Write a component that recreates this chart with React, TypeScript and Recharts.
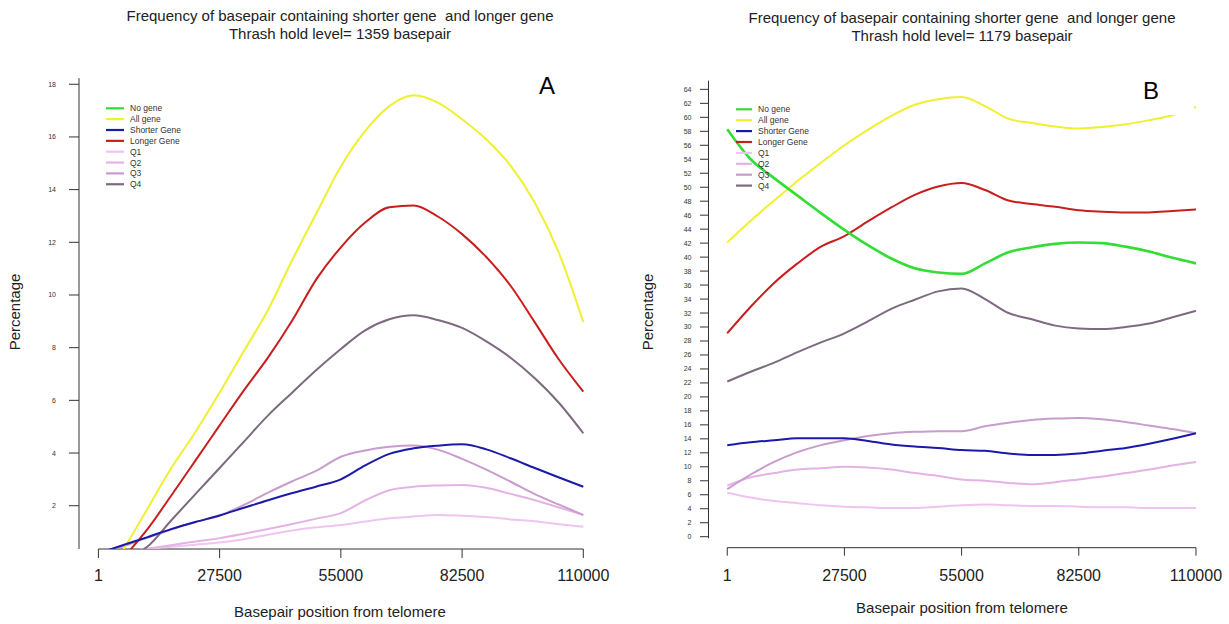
import { LineChart, Line, XAxis, YAxis, ReferenceLine } from 'recharts';

const FONT = '"Liberation Sans", Arial, Helvetica, sans-serif';

// basepair positions the curves are sampled at
const positions = [1, 5500, 11000, 16500, 22000, 27500, 33000, 38500, 44000, 49500, 55000, 60500, 66000, 71500, 77000, 82500, 88000, 93500, 99000, 104500, 110000];
const xTicks = [1, 27500, 55000, 82500, 110000];
const yTicksA = [2, 4, 6, 8, 10, 12, 14, 16, 18];
const yTicksB = [0, 2, 4, 6, 8, 10, 12, 14, 16, 18, 20, 22, 24, 26, 28, 30, 32, 34, 36, 38, 40, 42, 44, 46, 48, 50, 52, 54, 56, 58, 60, 62, 64];

const seriesKeys = ['noGene', 'allGene', 'shorter', 'longer', 'q1', 'q2', 'q3', 'q4'];
const seriesNames = ['No gene', 'All gene', 'Shorter Gene', 'Longer Gene', 'Q1', 'Q2', 'Q3', 'Q4'];
const seriesColors = ['#33dd33', '#f0f030', '#1a1aaa', '#c81e1e', '#f0c4f0', '#e4b2e4', '#c89ccc', '#7e6a80'];
const seriesWidths = [2.6, 2, 2, 2, 2, 2, 2, 2];
// drawing order (first = bottom)
const drawOrder = ['q1', 'q2', 'q3', 'q4', 'allGene', 'longer', 'shorter', 'noGene'];

// Panel A - threshold 1359 bp (No gene is off the top of this scale)
const allGeneA = [null, 0.28, 1.85, 3.42, 4.8, 6.3, 7.87, 9.44, 11.34, 13.12, 14.88, 16.22, 17.17, 17.58, 17.3, 16.67, 15.9, 14.91, 13.5, 11.58, 8.97];
const longerA = [null, 0, 1.08, 2.38, 3.71, 5.05, 6.38, 7.63, 9.04, 10.61, 11.81, 12.75, 13.33, 13.4, 12.98, 12.31, 11.44, 10.35, 8.96, 7.54, 6.33];
const shorterA = [0.19, 0.5, 0.8, 1.11, 1.38, 1.63, 1.92, 2.21, 2.48, 2.73, 3.0, 3.53, 3.97, 4.18, 4.28, 4.33, 4.14, 3.8, 3.43, 3.07, 2.72];
const q1A = [0.1, 0.22, 0.35, 0.44, 0.52, 0.6, 0.73, 0.9, 1.06, 1.18, 1.27, 1.4, 1.52, 1.59, 1.65, 1.62, 1.57, 1.48, 1.41, 1.3, 1.2];
const q2A = [0.1, 0.23, 0.37, 0.5, 0.64, 0.77, 0.94, 1.12, 1.31, 1.51, 1.72, 2.2, 2.59, 2.72, 2.77, 2.79, 2.68, 2.45, 2.21, 1.93, 1.65];
const q3A = [0.15, 0.45, 0.78, 1.1, 1.38, 1.63, 2.03, 2.5, 2.93, 3.33, 3.86, 4.1, 4.24, 4.29, 4.13, 3.78, 3.37, 2.91, 2.44, 2.04, 1.65];
const q4A = [null, 0, 0.43, 1.44, 2.44, 3.43, 4.43, 5.43, 6.3, 7.16, 7.95, 8.66, 9.08, 9.23, 9.05, 8.75, 8.24, 7.62, 6.84, 5.9, 4.75];

// Panel B - threshold 1179 bp
const noGeneB = [58.3, 54.0, 51.3, 48.8, 46.3, 43.9, 41.7, 39.8, 38.4, 37.8, 37.6, 39.1, 40.7, 41.4, 41.9, 42.1, 42.0, 41.5, 40.8, 39.9, 39.1];
const allGeneB = [42.1, 45.2, 48.1, 50.9, 53.5, 56.0, 58.2, 60.2, 61.8, 62.6, 62.9, 61.6, 59.8, 59.2, 58.7, 58.4, 58.6, 59.0, 59.6, 60.3, 61.5];
const longerB = [29.1, 32.9, 36.3, 39.1, 41.5, 43.0, 45.1, 47.1, 48.9, 50.1, 50.6, 49.6, 48.1, 47.6, 47.2, 46.7, 46.5, 46.4, 46.4, 46.6, 46.8];
const shorterB = [13.1, 13.5, 13.8, 14.1, 14.1, 14.1, 13.7, 13.2, 12.9, 12.7, 12.4, 12.3, 11.9, 11.7, 11.7, 11.9, 12.3, 12.7, 13.3, 14.0, 14.8];
const q1B = [6.3, 5.6, 5.1, 4.8, 4.5, 4.3, 4.2, 4.1, 4.1, 4.3, 4.5, 4.6, 4.5, 4.4, 4.4, 4.3, 4.2, 4.2, 4.1, 4.1, 4.1];
const q2B = [7.3, 8.5, 9.1, 9.6, 9.8, 10.0, 9.9, 9.6, 9.1, 8.7, 8.2, 8.0, 7.7, 7.5, 7.8, 8.2, 8.6, 9.1, 9.6, 10.2, 10.7];
const q3B = [6.8, 8.9, 10.7, 12.1, 13.1, 13.8, 14.4, 14.8, 15.0, 15.1, 15.1, 15.8, 16.3, 16.7, 16.9, 17.0, 16.8, 16.4, 15.9, 15.4, 14.8];
const q4B = [22.2, 23.6, 24.9, 26.4, 27.8, 29.1, 30.8, 32.6, 33.9, 35.1, 35.5, 34.0, 32.0, 31.1, 30.2, 29.8, 29.7, 30.0, 30.5, 31.4, 32.3];

type Cols = Record<string, (number | null)[]>;

function buildRows(cols: Cols) {
  return positions.map((x, i) => {
    const row: Record<string, number | null> = { x };
    Object.keys(cols).forEach((k) => {
      row[k] = cols[k][i];
    });
    return row;
  });
}

const rowsA = buildRows({ allGene: allGeneA, longer: longerA, shorter: shorterA, q1: q1A, q2: q2A, q3: q3A, q4: q4A });
const rowsB = buildRows({ noGene: noGeneB, allGene: allGeneB, longer: longerB, shorter: shorterB, q1: q1B, q2: q2B, q3: q3B, q4: q4B });

const xDomain: [number, number] = [-4399, 114399];

interface PanelProps {
  rows: Record<string, number | null>[];
  keys: string[];
  width: number;
  margin: { top: number; right: number; bottom: number; left: number };
  yDomain: [number, number];
  yTicks: number[];
  yLine: [number, number];
  xLineY: number;
  tickLen: number;
  xTickMargin: number;
  yTickLen: number;
  yTickMargin: number;
}

function Panel({ rows, keys, width, margin, yDomain, yTicks, yLine, xLineY, tickLen, xTickMargin, yTickLen, yTickMargin }: PanelProps) {
  return (
    <LineChart width={width} height={624} data={rows} margin={margin}>
      <XAxis
        type="number"
        dataKey="x"
        domain={xDomain}
        ticks={xTicks}
        interval={0}
        height={40}
        axisLine={false}
        tickSize={tickLen}
        tickMargin={xTickMargin}
        tickLine={{ stroke: '#333' }}
        tick={{ fontSize: 16, fill: '#222', fontFamily: FONT }}
      />
      <YAxis
        type="number"
        domain={yDomain}
        allowDataOverflow
        ticks={yTicks}
        interval={0}
        width={40}
        axisLine={false}
        tickSize={yTickLen}
        tickMargin={yTickMargin}
        tickLine={{ stroke: '#333' }}
        tick={{ fontSize: 7, fill: '#333', fontFamily: FONT }}
      />
      {/* R-style axis lines */}
      <ReferenceLine
        segment={[{ x: 1, y: xLineY }, { x: 110000, y: xLineY }]}
        stroke="#333"
        ifOverflow="visible"
      />
      <ReferenceLine
        segment={[{ x: xDomain[0], y: yLine[0] }, { x: xDomain[0], y: yLine[1] }]}
        stroke="#333"
        ifOverflow="visible"
      />
      {drawOrder
        .filter((k) => keys.includes(k))
        .map((k) => {
          const i = seriesKeys.indexOf(k);
          return (
            <Line
              key={k}
              type="monotone"
              dataKey={k}
              name={seriesNames[i]}
              stroke={seriesColors[i]}
              strokeWidth={seriesWidths[i]}
              dot={false}
              activeDot={false}
              isAnimationActive={false}
            />
          );
        })}
    </LineChart>
  );
}

function LegendBox({ x1, x2, tx, y0, step }: { x1: number; x2: number; tx: number; y0: number; step: number }) {
  return (
    <g>
      {seriesNames.map((name, i) => (
        <g key={name}>
          <line x1={x1} x2={x2} y1={y0 + i * step} y2={y0 + i * step} stroke={seriesColors[i]} strokeWidth={2.2} />
          <text x={tx} y={y0 + i * step + 3} fontSize={8.5} fill="#333" fontFamily={FONT}>
            {name}
          </text>
        </g>
      ))}
    </g>
  );
}

const titleStyle = { whiteSpace: 'pre' as const };

export default function App() {
  return (
    <div style={{ position: 'absolute', left: 0, top: 0, width: 1229, height: 624, background: '#fff', fontFamily: FONT }}>
      <div style={{ position: 'absolute', left: 0, top: 0 }}>
        <Panel
          rows={rowsA}
          keys={['allGene', 'longer', 'shorter', 'q1', 'q2', 'q3', 'q4']}
          width={620}
          margin={{ top: 78.2, right: 17.3, bottom: 35, left: 39 }}
          yDomain={[0.357, 18.23]}
          yTicks={yTicksA}
          yLine={[0.357, 18.23]}
          xLineY={0.357}
          tickLen={9}
          xTickMargin={12}
          yTickLen={10}
          yTickMargin={13}
        />
      </div>
      <div style={{ position: 'absolute', left: 620, top: 0 }}>
        <Panel
          rows={rowsB}
          keys={seriesKeys}
          width={609}
          margin={{ top: 80.7, right: 14.3, bottom: 36.3, left: 48.5 }}
          yDomain={[-1.574, 65.24]}
          yTicks={yTicksB}
          yLine={[-0.23, 65.24]}
          xLineY={-1.574}
          tickLen={8}
          xTickMargin={14}
          yTickLen={8.5}
          yTickMargin={8.5}
        />
      </div>
      <svg width={1229} height={624} style={{ position: 'absolute', left: 0, top: 0, pointerEvents: 'none' }}>
        {/* titles */}
        <text x={340} y={21} textAnchor="middle" fontSize={15} fill="#222" fontFamily={FONT} style={titleStyle}>
          {'Frequency of basepair containing shorter gene  and longer gene'}
        </text>
        <text x={340} y={39} textAnchor="middle" fontSize={15} fill="#222" fontFamily={FONT}>
          Thrash hold level= 1359 basepair
        </text>
        <text x={962} y={23} textAnchor="middle" fontSize={15} fill="#222" fontFamily={FONT} style={titleStyle}>
          {'Frequency of basepair containing shorter gene  and longer gene'}
        </text>
        <text x={962} y={41} textAnchor="middle" fontSize={15} fill="#222" fontFamily={FONT}>
          Thrash hold level= 1179 basepair
        </text>

        {/* axis titles */}
        <text x={340} y={617} textAnchor="middle" fontSize={15} fill="#222" fontFamily={FONT}>
          Basepair position from telomere
        </text>
        <text x={962} y={613} textAnchor="middle" fontSize={15} fill="#222" fontFamily={FONT}>
          Basepair position from telomere
        </text>
        <text transform="translate(20,312) rotate(-90)" textAnchor="middle" fontSize={15} fill="#222" fontFamily={FONT}>
          Percentage
        </text>
        <text transform="translate(653,312) rotate(-90)" textAnchor="middle" fontSize={15} fill="#222" fontFamily={FONT}>
          Percentage
        </text>

        {/* panel letters (B sits on a white patch) */}
        <rect x={1166} y={72} width={28} height={43} fill="#fff" />
        <text x={547} y={94} textAnchor="middle" fontSize={24} fill="#000" fontFamily={FONT}>A</text>
        <text x={1151} y={99} textAnchor="middle" fontSize={24} fill="#000" fontFamily={FONT}>B</text>

        <LegendBox x1={106} x2={124} tx={130} y0={108.3} step={10.85} />
        <LegendBox x1={736} x2={752} tx={758} y0={109.3} step={10.9} />
      </svg>
    </div>
  );
}
